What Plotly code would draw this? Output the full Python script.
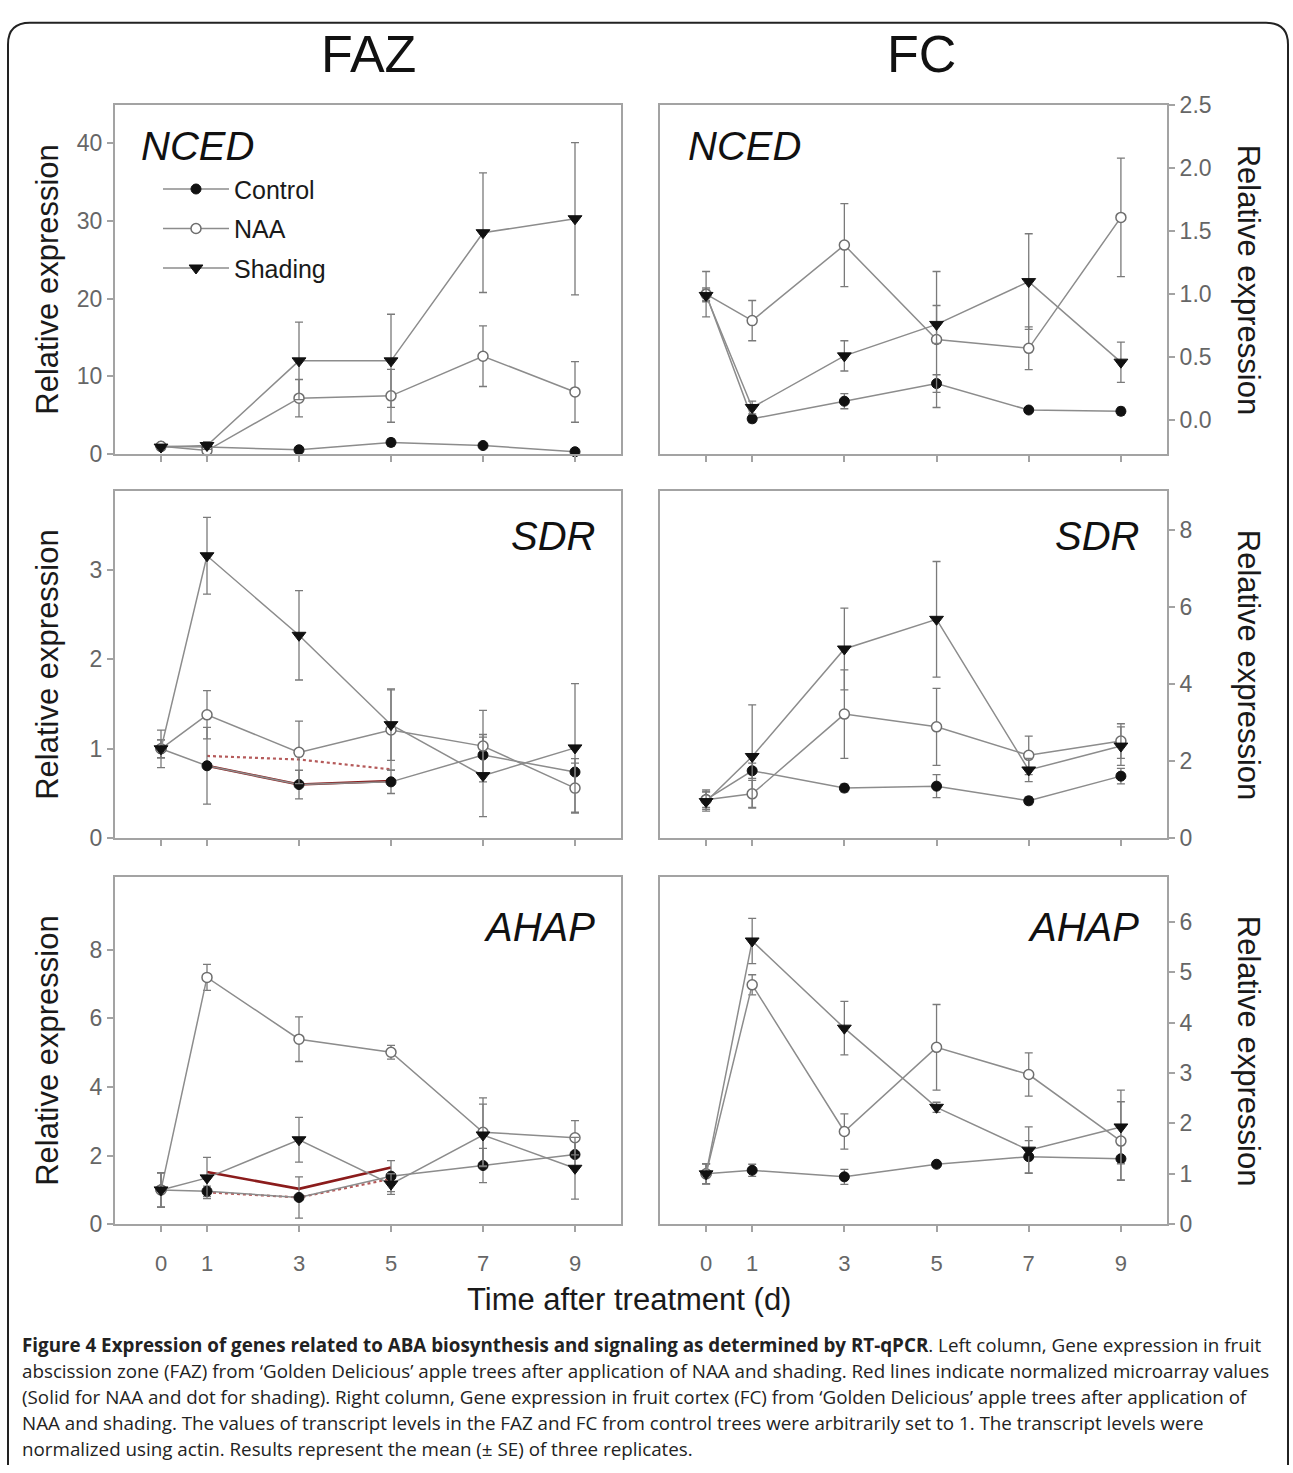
import plotly.graph_objects as go

W, H = 1293, 1473

days = [0, 1, 3, 5, 7, 9]
day_labels = ["0", "1", "3", "5", "7", "9"]
array_days = [1, 3, 5]

# ---- FAZ NCED ----
faz_nced_control = [1.0, 0.9, 0.55, 1.5, 1.1, 0.3]
faz_nced_control_se = [0.2, 0.2, 0.2, 0.5, 0.3, 0.2]
faz_nced_naa = [1.0, 0.45, 7.2, 7.5, 12.6, 8.0]
faz_nced_naa_se = [0.2, 0.3, 2.4, 3.4, 3.9, 3.9]
faz_nced_shading = [0.9, 1.1, 12.0, 12.0, 28.5, 30.3]
faz_nced_shading_se = [0.2, 0.5, 5.0, 6.0, 7.7, 9.8]

# ---- FC NCED ----
fc_nced_control = [1.0, 0.01, 0.15, 0.29, 0.08, 0.07]
fc_nced_control_se = [0.05, 0.03, 0.06, 0.07, 0.02, 0.03]
fc_nced_naa = [1.0, 0.79, 1.39, 0.64, 0.57, 1.61]
fc_nced_naa_se = [0.18, 0.16, 0.33, 0.54, 0.17, 0.47]
fc_nced_shading = [0.99, 0.10, 0.51, 0.76, 1.10, 0.46]
fc_nced_shading_se = [0.05, 0.05, 0.12, 0.15, 0.38, 0.16]

# ---- FAZ SDR ----
faz_sdr_control = [1.0, 0.81, 0.60, 0.63, 0.93, 0.74]
faz_sdr_control_se = [0.1, 0.43, 0.16, 0.13, 0.2, 0.15]
faz_sdr_naa = [1.0, 1.38, 0.96, 1.21, 1.03, 0.56]
faz_sdr_naa_se = [0.1, 0.27, 0.35, 0.45, 0.4, 0.28]
faz_sdr_shading = [1.0, 3.16, 2.27, 1.27, 0.70, 1.01]
faz_sdr_shading_se = [0.21, 0.43, 0.5, 0.4, 0.46, 0.72]
faz_sdr_array_naa = [0.81, 0.60, 0.64]
faz_sdr_array_shading = [0.92, 0.88, 0.77]

# ---- FC SDR ----
fc_sdr_control = [1.0, 1.75, 1.30, 1.35, 0.97, 1.61]
fc_sdr_control_se = [0.2, 0.2, 0.1, 0.3, 0.1, 0.2]
fc_sdr_naa = [1.0, 1.15, 3.22, 2.89, 2.15, 2.52]
fc_sdr_naa_se = [0.25, 0.35, 1.15, 1.0, 0.5, 0.45]
fc_sdr_shading = [0.95, 2.12, 4.91, 5.68, 1.77, 2.39]
fc_sdr_shading_se = [0.25, 1.34, 1.06, 1.5, 0.3, 0.5]

# ---- FAZ AHAP ----
faz_ahap_control = [1.0, 0.96, 0.78, 1.40, 1.71, 2.03]
faz_ahap_control_se = [0.5, 0.15, 0.6, 0.45, 0.5, 0.4]
faz_ahap_naa = [1.0, 7.19, 5.39, 5.01, 2.68, 2.52]
faz_ahap_naa_se = [0.5, 0.38, 0.65, 0.2, 1.0, 0.5]
faz_ahap_shading = [1.0, 1.35, 2.46, 1.17, 2.60, 1.63]
faz_ahap_shading_se = [0.5, 0.6, 0.65, 0.3, 0.9, 0.9]
faz_ahap_array_naa = [1.52, 1.03, 1.65]
faz_ahap_array_shading = [0.93, 0.78, 1.32]

# ---- FC AHAP ----
fc_ahap_control = [1.0, 1.07, 0.94, 1.19, 1.34, 1.30]
fc_ahap_control_se = [0.2, 0.12, 0.15, 0.05, 0.32, 0.42]
fc_ahap_naa = [1.0, 4.75, 1.84, 3.51, 2.97, 1.65]
fc_ahap_naa_se = [0.2, 0.2, 0.35, 0.85, 0.43, 0.78]
fc_ahap_shading = [1.0, 5.62, 3.89, 2.32, 1.47, 1.93]
fc_ahap_shading_se = [0.2, 0.45, 0.53, 0.1, 0.46, 0.73]

panels = [
    # (gene, column, row, control, control_se, naa, naa_se, shading, shading_se, y_range, tickvals, tickformat)
    ("NCED", "L", 0, faz_nced_control, faz_nced_control_se, faz_nced_naa, faz_nced_naa_se,
     faz_nced_shading, faz_nced_shading_se, [0, 44.9], [0, 10, 20, 30, 40], None),
    ("NCED", "R", 0, fc_nced_control, fc_nced_control_se, fc_nced_naa, fc_nced_naa_se,
     fc_nced_shading, fc_nced_shading_se, [-0.27, 2.5], [0, 0.5, 1.0, 1.5, 2.0, 2.5], ".1f"),
    ("SDR", "L", 1, faz_sdr_control, faz_sdr_control_se, faz_sdr_naa, faz_sdr_naa_se,
     faz_sdr_shading, faz_sdr_shading_se, [0, 3.88], [0, 1, 2, 3], None),
    ("SDR", "R", 1, fc_sdr_control, fc_sdr_control_se, fc_sdr_naa, fc_sdr_naa_se,
     fc_sdr_shading, fc_sdr_shading_se, [0, 9.0], [0, 2, 4, 6, 8], None),
    ("AHAP", "L", 2, faz_ahap_control, faz_ahap_control_se, faz_ahap_naa, faz_ahap_naa_se,
     faz_ahap_shading, faz_ahap_shading_se, [0, 10.1], [0, 2, 4, 6, 8], None),
    ("AHAP", "R", 2, fc_ahap_control, fc_ahap_control_se, fc_ahap_naa, fc_ahap_naa_se,
     fc_ahap_shading, fc_ahap_shading_se, [0, 6.88], [0, 1, 2, 3, 4, 5, 6], None),
]

red_lines = {
    3: (faz_sdr_array_naa, faz_sdr_array_shading),
    5: (faz_ahap_array_naa, faz_ahap_array_shading),
}

# ---------------- layout geometry (pixels) ----------------
col_px = {"L": (115, 621), "R": (660, 1167)}
row_px = [(94, 449), (487, 840), (880, 1233)]

FONT = "Liberation Sans, Arial, sans-serif"
LINE_C = "#8c8c8c"
FRAME_C = "#a3a3a3"
TICK_C = "#666666"


def px_x(p):
    return p / W


def px_y(p):
    return 1 - p / H


marker_styles = {
    "Control": dict(symbol="circle", size=10, color="#111111", line=dict(color="#111111", width=1)),
    "NAA": dict(symbol="circle", size=10, color="white", line=dict(color="#6e6e6e", width=1.5)),
    "Shading": dict(symbol="triangle-down", size=12, color="#111111", line=dict(color="#111111", width=1)),
}

fig = go.Figure()
layout = dict()

for i, (gene, col, row, c, cse, n, nse, s, sse, yr, yt, yf) in enumerate(panels, start=1):
    xa = "x" if i == 1 else f"x{i}"
    ya = "y" if i == 1 else f"y{i}"
    xk = "xaxis" if i == 1 else f"xaxis{i}"
    yk = "yaxis" if i == 1 else f"yaxis{i}"
    x0, x1 = col_px[col]
    t, b = row_px[row]

    # red microarray lines (drawn first, under the markers)
    if i in red_lines:
        arr_naa, arr_sh = red_lines[i]
        fig.add_trace(go.Scatter(x=array_days, y=arr_sh, mode="lines", xaxis=xa, yaxis=ya,
                                 line=dict(color="#b55a5a", width=2.2, dash="dot"),
                                 showlegend=False, hoverinfo="skip", cliponaxis=False))
        fig.add_trace(go.Scatter(x=array_days, y=arr_naa, mode="lines", xaxis=xa, yaxis=ya,
                                 line=dict(color="#8b1c1c", width=2.6),
                                 showlegend=False, hoverinfo="skip", cliponaxis=False))

    for name, vals, se in (("Control", c, cse), ("NAA", n, nse), ("Shading", s, sse)):
        fig.add_trace(go.Scatter(
            x=days, y=vals, name=name, legendgroup=name, showlegend=(i == 1),
            mode="lines+markers", xaxis=xa, yaxis=ya, cliponaxis=False,
            line=dict(color=LINE_C, width=1.5),
            marker=marker_styles[name],
            error_y=dict(type="data", array=se, visible=True, color="#7a7a7a", thickness=1.3, width=4),
        ))

    layout[xk] = dict(
        domain=[px_x(x0), px_x(x1)], anchor=ya, range=[-1, 10],
        tickmode="array", tickvals=days, ticktext=day_labels,
        showticklabels=(row == 2), ticks="outside", ticklen=6, tickwidth=1.5, tickcolor=FRAME_C,
        ticklabelstandoff=12,
        tickfont=dict(family=FONT, size=22, color=TICK_C),
        showline=True, linecolor=FRAME_C, linewidth=2, mirror=True,
        showgrid=False, zeroline=False, fixedrange=True,
    )
    layout[yk] = dict(
        domain=[px_y(b), px_y(t)], anchor=xa, range=yr,
        side="left" if col == "L" else "right",
        tickmode="array", tickvals=yt, tickformat=yf,
        ticks="outside", ticklen=6, tickwidth=1.5, tickcolor=FRAME_C,
        tickfont=dict(family=FONT, size=23, color=TICK_C),
        showline=True, linecolor=FRAME_C, linewidth=2, mirror=True,
        showgrid=False, zeroline=False, fixedrange=True,
    )


def text_ann(text, x, y, size, xanchor="center", angle=0, family=FONT, color="#111111"):
    return dict(text=text, x=px_x(x), y=px_y(y), xref="paper", yref="paper",
                xanchor=xanchor, yanchor="middle", textangle=angle, showarrow=False,
                font=dict(family=family, size=size, color=color))


annotations = []
# column titles
annotations.append(text_ann("FAZ", 368, 42, 52))
annotations.append(text_ann("FC", 921, 42, 52))

# gene labels
gene_pos = [
    ("NCED", 139, 135, "left"),
    ("NCED", 686, 135, "left"),
    ("SDR", 597, 532, "right"),
    ("SDR", 1141, 532, "right"),
    ("AHAP", 597, 930, "right"),
    ("AHAP", 1141, 930, "right"),
]
for g, gx, gy, anc in gene_pos:
    annotations.append(text_ann(f"<i>{g}</i>", gx, gy, 40, xanchor=anc))

# y-axis titles
for t, b in row_px:
    yc = (t + b) / 2
    annotations.append(text_ann("Relative expression", 48, yc, 31, angle=-90, color="#1a1a1a"))
    annotations.append(text_ann("Relative expression", 1248, yc, 31, angle=90, color="#1a1a1a"))

# x-axis title
annotations.append(text_ann("Time after treatment (d)", 629, 1310, 31, color="#1a1a1a"))

caption_lines = [
    "<b>Figure 4 Expression of genes related to ABA biosynthesis and signaling as determined by RT-qPCR</b>. "
    "Left column, Gene expression in fruit",
    "abscission zone (FAZ) from \u2018Golden Delicious\u2019 apple trees after application of NAA and shading. "
    "Red lines indicate normalized microarray values",
    "(Solid for NAA and dot for shading). Right column, Gene expression in fruit cortex (FC) from "
    "\u2018Golden Delicious\u2019 apple trees after application of",
    "NAA and shading. The values of transcript levels in the FAZ and FC from control trees were arbitrarily "
    "set to 1. The transcript levels were",
    "normalized using actin. Results represent the mean (\u00b1 SE) of three replicates.",
]
for k, line in enumerate(caption_lines):
    annotations.append(text_ann(line, 20, 1356 + 26.5 * k, 18.8, xanchor="left",
                                family="Open Sans, Noto Sans, sans-serif", color="#222222"))


# figure frame with rounded top corners
def P(x, y):
    return f"{x / W:.5f},{1 - y / H:.5f}"


frame_path = (f"M {P(8, H + 5)} L {P(8, 32)} Q {P(8, 10)} {P(30, 10)} "
              f"L {P(1266, 10)} Q {P(1288, 10)} {P(1288, 32)} L {P(1288, H + 5)}")
shapes = [dict(type="path", path=frame_path, xref="paper", yref="paper",
               line=dict(color="#222222", width=2))]

fig.update_layout(
    width=W, height=H, margin=dict(l=0, r=0, t=0, b=0),
    paper_bgcolor="white", plot_bgcolor="white",
    showlegend=True,
    legend=dict(x=px_x(158), y=px_y(156), xanchor="left", yanchor="top",
                bgcolor="rgba(0,0,0,0)", tracegroupgap=4, itemwidth=66,
                font=dict(family=FONT, size=25, color="#1a1a1a")),
    annotations=annotations, shapes=shapes,
    **layout,
)

fig.write_html("out.html")
